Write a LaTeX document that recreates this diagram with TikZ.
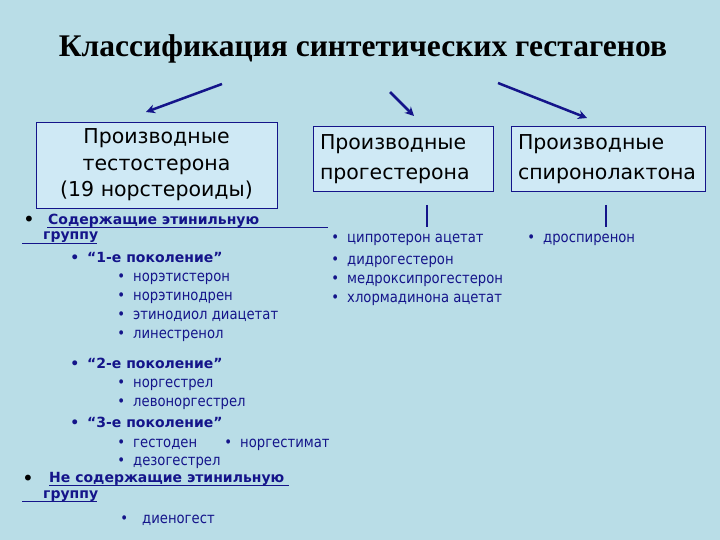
\documentclass[tikz,border=0pt]{standalone}
\usepackage{fontspec}
\setmainfont{DejaVu Sans}
\newfontfamily\titlefont{Liberation Serif}
\newfontfamily\lstfont[FakeStretch=0.88]{DejaVu Sans}
\definecolor{bg}{HTML}{B9DDE7}
\definecolor{boxfill}{HTML}{CFE9F5}
\definecolor{navy}{HTML}{14148A}
\tikzset{
  box/.style={draw=navy, line width=0.8pt, fill=boxfill, inner sep=0pt, text=black,
    font=\fontsize{20.5}{26.5}\selectfont},
  item/.style={anchor=base west, inner sep=0pt, text=navy, font=\lstfont\fontsize{15}{17}\selectfont},
  head/.style={anchor=base west, inner sep=0pt, text=navy, font=\bfseries\fontsize{14}{16}\selectfont},
  arr/.style={draw=navy, line width=2.5pt, -{Stealth[length=9pt,width=9pt]}},
  vline/.style={draw=navy, line width=2.5pt},
  uline/.style={draw=navy, line width=1pt},
}
\usetikzlibrary{arrows.meta}
\newcommand{\bul}{\llap{\textbullet\hspace{8pt}}}
\begin{document}
\begin{tikzpicture}[x=1pt,y=-1pt]
\fill[bg] (0,0) rectangle (720,540);
\useasboundingbox (0,0) rectangle (720,540);

\node[anchor=base, inner sep=0pt, font=\titlefont\bfseries\fontsize{31.5}{34}\selectfont] (title) at (363,57) {Классификация синтетических гестагенов};

\node[box, minimum width=241pt, minimum height=86pt, align=center] (b1) at (156.5,165)
  {Производные\\тестостерона\\(19 норстероиды)};
\node[box, minimum width=180pt, minimum height=65pt, text width=166pt, align=left,
  font=\fontsize{20.5}{30}\selectfont] (b2) at (403,159) {Производные\\прогестерона};
\node[box, minimum width=194pt, minimum height=65pt, text width=180pt, align=left,
  font=\fontsize{20.5}{30}\selectfont] (b3) at (608,159) {Производные\\спиронолактона};

\coordinate (a1s) at (222,84); \coordinate (a1e) at (146,112);
\coordinate (a2s) at (390,92); \coordinate (a2e) at (414,116);
\coordinate (a3s) at (498,83); \coordinate (a3e) at (587,118);
\draw[arr] (a1s) -- (a1e);
\draw[arr] (a2s) -- (a2e);
\draw[arr] (a3s) -- (a3e);

\coordinate (v2s) at (427,205); \coordinate (v2e) at (427,227);
\coordinate (v3s) at (606,205); \coordinate (v3e) at (606,227);
\draw[vline] (v2s) -- (v2e);
\draw[vline] (v3s) -- (v3e);

% left column
\node[anchor=base, inner sep=0pt, font=\fontsize{20}{20}\selectfont] (bA) at (29,226) {\textbullet};
\node[head] (hA) at (48,225) {Содержащие этинильную};
\node[head] (hA2) at (43,240) {группу};
\coordinate (uA1s) at (47,228); \coordinate (uA1e) at (328,228);
\coordinate (uA2s) at (22,243); \coordinate (uA2e) at (97,243);
\draw[uline] (uA1s) -- (uA1e);
\draw[uline] (uA2s) -- (uA2e);

\node[head] (g1) at (87,262) {\bul“1-е поколение”};
\node[item] (i1) at (133,281) {\bul норэтистерон};
\node[item] (i2) at (133,300) {\bul норэтинодрен};
\node[item] (i3) at (133,319) {\bul этинодиол диацетат};
\node[item] (i4) at (133,338) {\bul линестренол};

\node[head] (g2) at (87,368) {\bul“2-е поколение”};
\node[item] (i5) at (133,387) {\bul норгестрел};
\node[item] (i6) at (133,406) {\bul левоноргестрел};
\node[head] (g3) at (87,427) {\bul“3-е поколение”};
\node[item] (i7) at (133,447) {\bul гестоден};
\node[item] (i8) at (240,447) {\bul норгестимат};
\node[item] (i9) at (133,465) {\bul дезогестрел};

\node[anchor=base, inner sep=0pt, font=\fontsize{20}{20}\selectfont] (bB) at (28,485) {\textbullet};
\node[head] (hB) at (49,482) {Не содержащие этинильную};
\node[head] (hB2) at (43,498) {группу};
\coordinate (uB1s) at (49,485); \coordinate (uB1e) at (289,485);
\coordinate (uB2s) at (22,501); \coordinate (uB2e) at (97,501);
\draw[uline] (uB1s) -- (uB1e);
\draw[uline] (uB2s) -- (uB2e);
\node[item] (i10) at (142,523) {\llap{\textbullet\hspace{14pt}}диеногест};

% right lists
\node[item] (r1) at (347,243) {\bul ципротерон ацетат};
\node[item] (r2) at (347,264) {\bul дидрогестерон};
\node[item] (r3) at (347,283) {\bul медроксипрогестерон};
\node[item] (r4) at (347,302) {\bul хлормадинона ацетат};
\node[item] (s1) at (543,243) {\bul дроспиренон};
\end{tikzpicture}
\end{document}
